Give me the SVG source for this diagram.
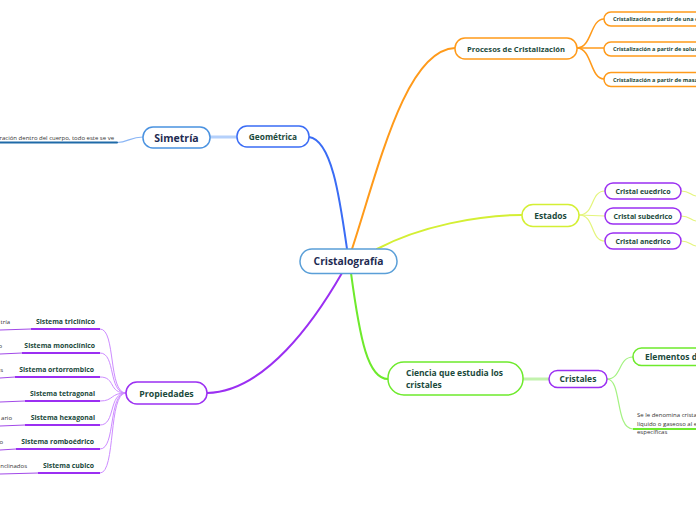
<svg xmlns="http://www.w3.org/2000/svg" width="696" height="520" viewBox="0 0 696 520">
<style>
text{font-family:"Open Sans","Noto Sans","Liberation Sans",sans-serif;font-weight:700;fill:#1b4a3c}
.navy{fill:#1e2b52}
.note{font-weight:400;fill:#333;font-size:6px}
.box{fill:#fff;stroke-width:1.5}
.c{fill:none;stroke-linecap:round}
.sis{font-size:6.85px}
.pc{font-size:5.6px}
</style>
<rect width="696" height="520" fill="#fff"/>
<g id="connectors">
  <path class="c" d="M309,137 C332,140 340,200 347,249" stroke="#3a6cf5" stroke-width="2"/>
  <path class="c" d="M352,249 C378,170 405,50 455,48" stroke="#ff9a1a" stroke-width="2"/>
  <path class="c" d="M377,249 C420,226 480,215 522,215" stroke="#d4ef34" stroke-width="2"/>
  <path class="c" d="M351,273 C360,340 368,379 388,379" stroke="#6eea2c" stroke-width="2"/>
  <path class="c" d="M342,273 C315,320 265,392 207,393" stroke="#9b2ff2" stroke-width="2"/>
  <path class="c" d="M210,137 L237,137" stroke="#b4d0fb" stroke-width="3"/>
  <path class="c" d="M143,137 C130,137 128,142.5 117,142.5" stroke="#8bb6f5" stroke-width="1.2"/>
  <path class="c" d="M0,142.5 L117,142.5" stroke="#1f6aa8" stroke-width="2"/>
  <g stroke="#ff9a1a" stroke-width="1.5" fill="none">
    <path d="M577,48 C592,48 590,19 604,19"/>
    <path d="M577,48 L604,48"/>
    <path d="M577,48 C592,48 590,79 604,79"/>
  </g>
  <g stroke="#e4f57c" stroke-width="1.2" fill="none">
    <path d="M579,215 C595,215 590,191 605,191"/>
    <path d="M579,215 L605,216"/>
    <path d="M579,215 C595,215 590,241 605,241"/>
    <path d="M681,191 C690,191 690,195 696,196"/>
    <path d="M681,216 C690,216 690,220 696,221"/>
    <path d="M681,241 C690,241 690,245 696,246"/>
  </g>
  <path class="c" d="M523,379 L549,379" stroke="#c2f2ad" stroke-width="3"/>
  <g stroke="#a4f282" stroke-width="1.2" fill="none">
    <path d="M607,379 C622,379 618,357 633,357"/>
    <path d="M607,379 C622,379 615,429 633,429"/>
  </g>
  <path d="M633,429 L696,429" stroke="#6eea2c" stroke-width="2"/>
  <g stroke="#cd8cff" stroke-width="1" fill="none">
    <path d="M126,393 C108,393 116,329 100,329"/>
    <path d="M126,393 C108,393 116,353 100,353"/>
    <path d="M126,393 C108,393 116,377 100,377"/>
    <path d="M126,393 C110,393 114,401 100,401"/>
    <path d="M126,393 C108,393 116,425 100,425"/>
    <path d="M126,393 C108,393 116,449 100,449"/>
    <path d="M126,393 C108,393 116,473 100,473"/>
  </g>
  <g stroke="#9b2ff2" stroke-width="2" fill="none">
    <path d="M31,329 L100,329"/>
    <path d="M22,353 L100,353"/>
    <path d="M15,377 L100,377"/>
    <path d="M25,401 L100,401"/>
    <path d="M25,425 L100,425"/>
    <path d="M16,449 L100,449"/>
    <path d="M38,473 L100,473"/>
  </g>
  <g stroke="#a24ae8" stroke-width="1" fill="none">
    <path d="M0,330 L31,329"/>
    <path d="M0,354 L22,353"/>
    <path d="M0,378 L15,377"/>
    <path d="M0,402 L25,401"/>
    <path d="M0,426 L25,425"/>
    <path d="M0,450 L16,449"/>
    <path d="M0,474 L38,473"/>
  </g>
</g>
<g id="central">
  <rect class="box" x="300" y="249" width="97" height="24.5" rx="12" stroke="#5a9fd8"/>
  <text class="navy" x="348.5" y="265" font-size="10.3" text-anchor="middle">Cristalografía</text>
</g>
<g id="geometrica">
  <rect class="box" x="237" y="126" width="72" height="21" rx="10" stroke="#3a6cf5"/>
  <text x="273" y="140" font-size="8.3" text-anchor="middle">Geométrica</text>
</g>
<g id="simetria">
  <rect class="box" x="143" y="127" width="67" height="21" rx="10" stroke="#4a92e0"/>
  <text class="navy" x="176.5" y="141.5" font-size="10.5" text-anchor="middle">Simetría</text>
</g>
<g id="simetria-desc">
  <text class="note" x="114" y="140" text-anchor="end" font-size="6.2">ración dentro del cuerpo, todo este se ve</text>
</g>
<g id="procesos">
  <rect class="box" x="455" y="38" width="122" height="21" rx="10" stroke="#ff9a1a"/>
  <text x="516" y="51.5" font-size="7.6" text-anchor="middle">Procesos de Cristalización</text>
</g>
<g id="proc1">
  <rect class="box" x="604" y="12" width="110" height="14" rx="7" stroke="#ff9a1a" stroke-width="1.2"/>
  <text class="pc" x="613" y="21">Cristalización a partir de una c</text>
</g>
<g id="proc2">
  <rect class="box" x="604" y="42" width="110" height="14" rx="7" stroke="#ff9a1a" stroke-width="1.2"/>
  <text class="pc" x="613" y="51">Cristalización a partir de soluc</text>
</g>
<g id="proc3">
  <rect class="box" x="604" y="72.5" width="110" height="14" rx="7" stroke="#ff9a1a" stroke-width="1.2"/>
  <text class="pc" x="613" y="81.5">Cristalización a partir de masa</text>
</g>
<g id="estados">
  <rect class="box" x="522" y="204.5" width="57" height="22" rx="11" stroke="#d4ef34"/>
  <text x="550.5" y="219" font-size="8.5" text-anchor="middle">Estados</text>
</g>
<g id="euedrico">
  <rect class="box" x="605" y="183" width="76" height="16" rx="8" stroke="#9b2ff2"/>
  <text x="643" y="194" font-size="7" text-anchor="middle">Cristal euedrico</text>
</g>
<g id="subedrico">
  <rect class="box" x="605" y="208" width="76" height="16" rx="8" stroke="#9b2ff2"/>
  <text x="643" y="219" font-size="7" text-anchor="middle">Cristal subedrico</text>
</g>
<g id="anedrico">
  <rect class="box" x="605" y="233" width="76" height="16" rx="8" stroke="#9b2ff2"/>
  <text x="643" y="244" font-size="7" text-anchor="middle">Cristal anedrico</text>
</g>
<g id="ciencia">
  <rect class="box" x="388" y="362" width="135" height="33" rx="16" stroke="#6eea2c"/>
  <text x="406" y="376" font-size="8.5">Ciencia que estudia los</text>
  <text x="406" y="388" font-size="8.5">cristales</text>
</g>
<g id="cristales">
  <rect class="box" x="549" y="370.5" width="58" height="17" rx="8.5" stroke="#9b2ff2"/>
  <text x="578" y="382" font-size="8.5" text-anchor="middle">Cristales</text>
</g>
<g id="elementos">
  <rect class="box" x="633" y="348" width="90" height="17.5" rx="8.5" stroke="#6eea2c"/>
  <text x="645" y="360" font-size="8.5">Elementos de</text>
</g>
<g id="definicion">
  <text class="note" x="637" y="417">Se le denomina crista</text>
  <text class="note" x="637" y="426">líquido o gaseoso al e</text>
  <text class="note" x="637" y="434">específicas</text>
</g>
<g id="propiedades">
  <rect class="box" x="126" y="382" width="81" height="22" rx="11" stroke="#9b2ff2"/>
  <text x="166.5" y="396.5" font-size="8.8" text-anchor="middle">Propiedades</text>
</g>
<g id="triclinico">
  <text class="sis" x="95" y="324" text-anchor="end">Sistema triclínico</text>
  <text class="note" x="10" y="324" text-anchor="end">tría</text>
</g>
<g id="monoclinico">
  <text class="sis" x="95" y="348" text-anchor="end">Sistema monoclínico</text>
  <text class="note" x="2" y="348" text-anchor="end">o</text>
</g>
<g id="ortorrombico">
  <text class="sis" x="94" y="372" text-anchor="end">Sistema ortorrombico</text>
  <text class="note" x="3" y="372" text-anchor="end">s</text>
</g>
<g id="tetragonal">
  <text class="sis" x="95" y="396" text-anchor="end">Sistema tetragonal</text>
</g>
<g id="hexagonal">
  <text class="sis" x="95" y="420" text-anchor="end">Sistema hexagonal</text>
  <text class="note" x="12" y="420" text-anchor="end">ario</text>
</g>
<g id="romboedrico">
  <text class="sis" x="94" y="444" text-anchor="end">Sistema romboédrico</text>
  <text class="note" x="3" y="444" text-anchor="end">o</text>
</g>
<g id="cubico">
  <text class="sis" x="94" y="468" text-anchor="end">Sistema cubico</text>
  <text class="note" x="27" y="468" text-anchor="end">nclinados</text>
</g>
</svg>
